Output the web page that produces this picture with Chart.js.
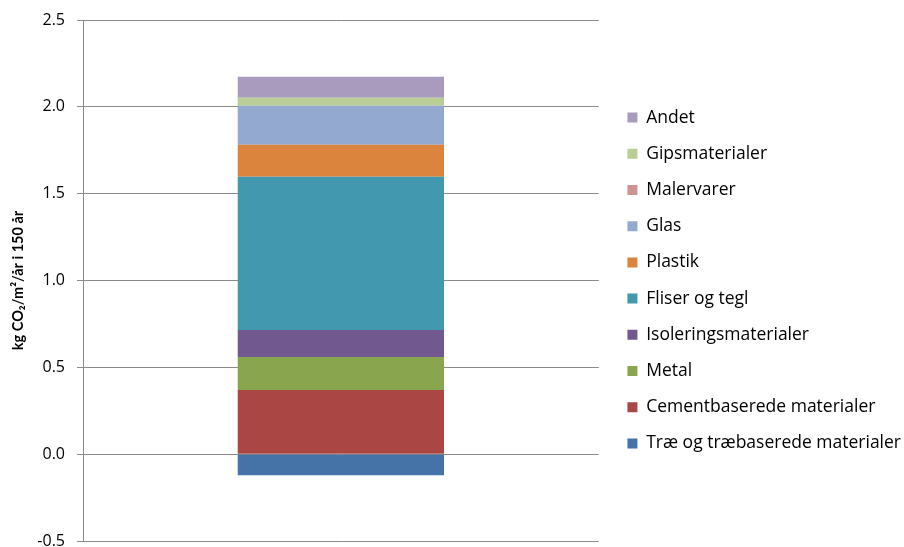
<!DOCTYPE html>
<html>
<head>
<meta charset="utf-8">
<script src="https://cdn.jsdelivr.net/npm/chart.js@4.4.0/dist/chart.umd.min.js"></script>
<style>
html,body{margin:0;padding:0;background:#fff;}
#wrap{width:904px;height:547px;}
</style>
</head>
<body>
<div id="wrap"><canvas id="c" width="904" height="547"></canvas></div>
<script>
const categories = [""];
const seriesNames = ["Træ og træbaserede materialer","Cementbaserede materialer","Metal","Isoleringsmaterialer","Fliser og tegl","Plastik","Glas","Malervarer","Gipsmaterialer","Andet"];
const traeValues = [-0.121];
const cementValues = [0.369];
const metalValues = [0.190];
const isoleringValues = [0.156];
const fliserValues = [0.882];
const plastikValues = [0.184];
const glasValues = [0.225];
const malervarerValues = [0.0];
const gipsValues = [0.046];
const andetValues = [0.121];
const yTicks = [-0.5, 0.0, 0.5, 1.0, 1.5, 2.0, 2.5];
const colors = ["#4572A7","#AA4643","#89A54E","#71588F","#4198AF","#DB843D","#93A9CF","#D19392","#B9CD96","#A99BBD"];
const allValues = [traeValues, cementValues, metalValues, isoleringValues, fliserValues, plastikValues, glasValues, malervarerValues, gipsValues, andetValues];

const FONT = "'Open Sans', sans-serif";

new Chart(document.getElementById('c'), {
  type: 'bar',
  data: {
    labels: categories,
    datasets: seriesNames.map((n, i) => ({
      label: n,
      data: allValues[i],
      backgroundColor: colors[i],
      borderWidth: 0,
      categoryPercentage: 0.4,
      barPercentage: 1.0
    }))
  },
  options: {
    responsive: false,
    animation: false,
    layout: { padding: { top: 20, bottom: 6, left: 0, right: -7 } },
    plugins: {
      tooltip: { enabled: false },
      legend: {
        position: 'right',
        reverse: true,
        maxWidth: 340,
        labels: {
          boxWidth: 10,
          boxHeight: 10,
          padding: 18.7,
          color: '#000',
          font: { family: FONT, size: 17.5 }
        }
      }
    },
    scales: {
      x: { stacked: true, display: false },
      y: {
        stacked: true,
        min: -0.5,
        max: 2.5,
        afterFit(scale) { scale.width = 83; scale.paddingTop = 0; scale.paddingBottom = 0; },
        afterBuildTicks(scale) { scale.ticks = yTicks.map(v => ({ value: v })); },
        ticks: {
          color: '#000',
          font: { family: FONT, size: 16 },
          padding: 12,
          callback: v => Number(v).toFixed(1)
        },
        grid: { color: '#8a8a8a', lineWidth: 1, tickLength: 6, drawTicks: true },
        border: { color: '#8a8a8a', width: 1 },
        title: {
          display: true,
          text: 'kg CO₂/m²/år i 150 år',
          color: '#000',
          font: { family: "Lato, sans-serif", size: 14.5, weight: 'bold' },
          padding: { top: 10, bottom: 4 }
        }
      },
      spacer: {
        position: 'right',
        display: true,
        min: 0, max: 1,
        afterFit(scale) { scale.width = 10; scale.paddingTop = 0; scale.paddingBottom = 0; },
        ticks: { display: false },
        grid: { display: false, drawTicks: false },
        border: { display: false }
      }
    }
  }
});
</script>
</body>
</html>
